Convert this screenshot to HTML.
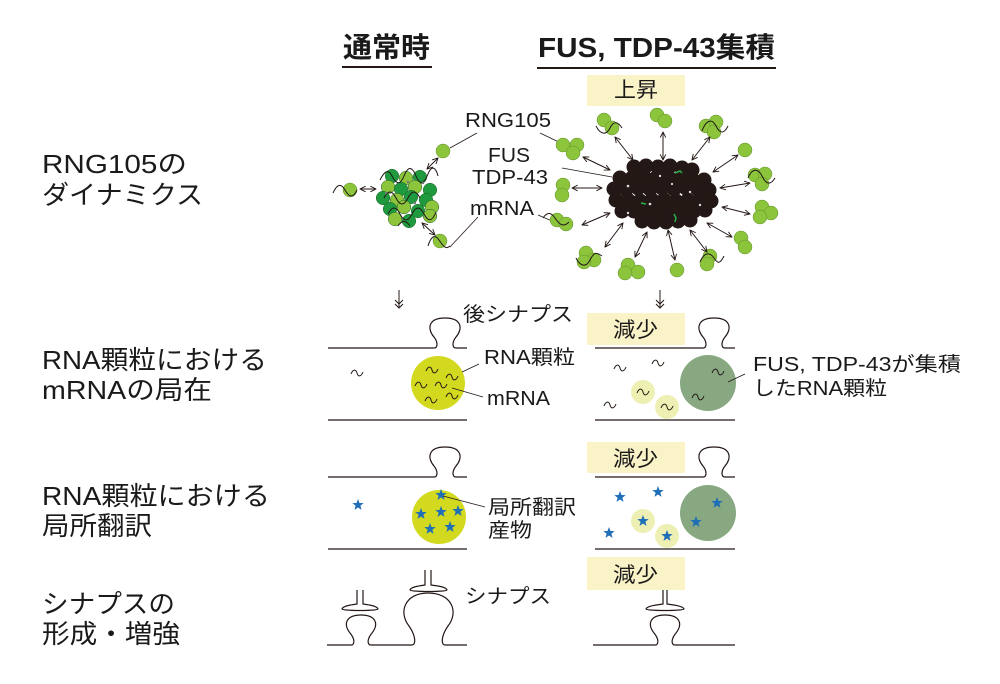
<!DOCTYPE html>
<html><head><meta charset="utf-8"><style>
html,body{margin:0;padding:0;background:#fff;}
svg{display:block;}
text{font-family:"Liberation Sans","Noto Sans CJK JP",sans-serif;fill:#1a1a1a;}
</style></head><body>
<svg width="1000" height="684" viewBox="0 0 1000 684" xmlns="http://www.w3.org/2000/svg">
<defs>
<marker id="ah" viewBox="0 0 10 10" refX="9" refY="5" markerWidth="7" markerHeight="7" orient="auto-start-reverse" markerUnits="userSpaceOnUse"><path d="M1,1 L9,5 L1,9" fill="none" stroke="#231815" stroke-width="1.3"/></marker>
<path id="w" d="M-6,1 C-4,-4 -1,-4 0,0 C1,4 4,4 6,-1" fill="none" stroke="#231815" stroke-width="1"/>
<path id="st" d="M0,-6 L1.47,-2.02 L5.71,-1.85 L2.38,0.77 L3.53,4.85 L0,2.5 L-3.53,4.85 L-2.38,0.77 L-5.71,-1.85 L-1.47,-2.02 Z" fill="#1f6eb8"/>
</defs>
<rect width="1000" height="684" fill="#fff"/>

<!-- headers -->
<text x="343" y="57" font-size="28" font-weight="bold" textLength="87" lengthAdjust="spacingAndGlyphs">通常時</text>
<rect x="342" y="66" width="90" height="2" fill="#231815"/>
<text x="538" y="57" font-size="28" font-weight="bold" textLength="237" lengthAdjust="spacingAndGlyphs">FUS, TDP-43集積</text>
<rect x="537" y="67" width="239" height="2" fill="#231815"/>

<!-- left labels -->
<g font-size="26">
<text x="42" y="173" textLength="145" lengthAdjust="spacingAndGlyphs">RNG105の</text>
<text x="42" y="204" textLength="161" lengthAdjust="spacingAndGlyphs">ダイナミクス</text>
<text x="42" y="369" textLength="225" lengthAdjust="spacingAndGlyphs">RNA顆粒における</text>
<text x="42" y="399" textLength="170" lengthAdjust="spacingAndGlyphs">mRNAの局在</text>
<text x="42" y="505" textLength="228" lengthAdjust="spacingAndGlyphs">RNA顆粒における</text>
<text x="42" y="535" textLength="110" lengthAdjust="spacingAndGlyphs">局所翻訳</text>
<text x="42" y="613" textLength="133" lengthAdjust="spacingAndGlyphs">シナプスの</text>
<text x="42" y="643" textLength="138" lengthAdjust="spacingAndGlyphs">形成・増強</text>
</g>

<!-- yellow boxes -->
<g fill="#fbf3c8">
<rect x="587" y="75" width="98" height="31"/>
<rect x="587" y="313" width="98" height="32"/>
<rect x="587" y="442" width="98" height="31"/>
<rect x="587" y="557" width="98" height="33"/>
</g>
<g font-size="21">
<text x="614" y="97" textLength="44" lengthAdjust="spacingAndGlyphs">上昇</text>
<text x="613" y="337" textLength="45" lengthAdjust="spacingAndGlyphs">減少</text>
<text x="613" y="466" textLength="45" lengthAdjust="spacingAndGlyphs">減少</text>
<text x="613" y="582" textLength="45" lengthAdjust="spacingAndGlyphs">減少</text>
</g>

<!-- ===== Row 1 normal cluster ===== -->
<g stroke="#1d5f22" stroke-width="0.5">
<circle cx="392" cy="176" r="6.8" fill="#1f9a3f"/>
<circle cx="406" cy="178" r="6.8" fill="#8cc43c"/>
<circle cx="420" cy="177" r="6.8" fill="#1f9a3f"/>
<circle cx="388" cy="187" r="6.8" fill="#8cc43c"/>
<circle cx="401" cy="189" r="6.8" fill="#1f9a3f"/>
<circle cx="415" cy="187" r="6.8" fill="#8cc43c"/>
<circle cx="430" cy="190" r="6.8" fill="#1f9a3f"/>
<circle cx="383" cy="198" r="6.8" fill="#1f9a3f"/>
<circle cx="397" cy="200" r="6.8" fill="#8cc43c"/>
<circle cx="411" cy="197" r="6.8" fill="#1f9a3f"/>
<circle cx="426" cy="200" r="6.8" fill="#1f9a3f"/>
<circle cx="390" cy="209" r="6.8" fill="#1f9a3f"/>
<circle cx="404" cy="207" r="6.8" fill="#8cc43c"/>
<circle cx="418" cy="211" r="6.8" fill="#1f9a3f"/>
<circle cx="432" cy="207" r="6.8" fill="#8cc43c"/>
<circle cx="395" cy="219" r="6.8" fill="#8cc43c"/>
<circle cx="409" cy="221" r="6.8" fill="#1f9a3f"/>
<circle cx="430" cy="216" r="6.8" fill="#8cc43c"/>
</g>
<g fill="none" stroke="#231815" stroke-width="1">
<path d="M380,180 C384,172 388,168 392,176 S400,186 404,176 S412,166 416,176 S424,184 428,174 S436,168 438,176"/>
<path d="M384,198 C388,190 392,190 396,198 S404,206 408,198 S416,190 420,198"/>
<path d="M388,214 C392,206 396,206 400,214 S408,222 412,214 S420,206 424,214 S432,222 436,212"/>
<path d="M398,226 C402,220 406,220 410,226"/>
</g>
<g fill="#777"><circle cx="386" cy="193" r="1.2"/><circle cx="408" cy="182" r="1.2"/><circle cx="415" cy="203" r="1.2"/><circle cx="423" cy="183" r="1.2"/></g>
<!-- satellites -->
<circle cx="443" cy="151" r="7" fill="#8cc43c" stroke="#5e8f2a" stroke-width="0.5"/>
<circle cx="350" cy="190" r="7" fill="#8cc43c" stroke="#5e8f2a" stroke-width="0.5"/>
<path d="M333,193 C337,184 341,183 345,190 S353,199 357,190" fill="none" stroke="#231815" stroke-width="1"/>
<circle cx="440" cy="241" r="7" fill="#8cc43c" stroke="#5e8f2a" stroke-width="0.5"/>
<path d="M428,246 C431,236 435,234 439,240 S446,250 450,246" fill="none" stroke="#231815" stroke-width="1"/>
<g stroke="#231815" stroke-width="1" fill="none" marker-start="url(#ah)" marker-end="url(#ah)">
<line x1="438" y1="158" x2="427" y2="169"/>
<line x1="360" y1="189" x2="376" y2="189"/>
<line x1="422" y1="223" x2="435" y2="235"/>
</g>

<!-- row1 labels and leaders -->
<g font-size="20">
<text x="465" y="127" textLength="86" lengthAdjust="spacingAndGlyphs">RNG105</text>
<text x="488" y="162" textLength="42" lengthAdjust="spacingAndGlyphs">FUS</text>
<text x="472" y="184" textLength="76" lengthAdjust="spacingAndGlyphs">TDP-43</text>
<text x="470" y="215" textLength="64" lengthAdjust="spacingAndGlyphs">mRNA</text>
</g>
<g stroke="#231815" stroke-width="0.8">
<line x1="477" y1="133" x2="450" y2="148"/>
<line x1="540" y1="133" x2="567" y2="146"/>
<line x1="562" y1="168" x2="612" y2="177"/>
<line x1="478" y1="217" x2="450" y2="247"/>
<line x1="538" y1="215" x2="552" y2="221"/>
</g>

<!-- ===== Row 1 aggregate ===== -->
<g fill="#231815">
<circle cx="634" cy="167" r="7.5"/><circle cx="646" cy="166" r="7.5"/><circle cx="658" cy="167" r="7.5"/><circle cx="670" cy="166" r="7.5"/><circle cx="682" cy="168" r="7.5"/><circle cx="692" cy="170" r="7.5"/>
<circle cx="620" cy="178" r="7.5"/><circle cx="632" cy="178" r="7.5"/><circle cx="644" cy="177" r="7.5"/><circle cx="656" cy="178" r="7.5"/><circle cx="668" cy="177" r="7.5"/><circle cx="680" cy="178" r="7.5"/><circle cx="692" cy="179" r="7.5"/><circle cx="704" cy="180" r="7.5"/>
<circle cx="614" cy="189" r="7.5"/><circle cx="626" cy="189" r="7.5"/><circle cx="638" cy="188" r="7.5"/><circle cx="650" cy="189" r="7.5"/><circle cx="662" cy="188" r="7.5"/><circle cx="674" cy="189" r="7.5"/><circle cx="686" cy="188" r="7.5"/><circle cx="698" cy="189" r="7.5"/><circle cx="709" cy="190" r="7.5"/>
<circle cx="616" cy="200" r="7.5"/><circle cx="628" cy="200" r="7.5"/><circle cx="640" cy="201" r="7.5"/><circle cx="652" cy="200" r="7.5"/><circle cx="664" cy="200" r="7.5"/><circle cx="676" cy="201" r="7.5"/><circle cx="688" cy="200" r="7.5"/><circle cx="700" cy="200" r="7.5"/><circle cx="711" cy="201" r="7.5"/>
<circle cx="622" cy="211" r="7.5"/><circle cx="634" cy="211" r="7.5"/><circle cx="646" cy="212" r="7.5"/><circle cx="658" cy="211" r="7.5"/><circle cx="670" cy="212" r="7.5"/><circle cx="682" cy="211" r="7.5"/><circle cx="694" cy="211" r="7.5"/><circle cx="705" cy="210" r="7.5"/>
<circle cx="642" cy="221" r="7.5"/><circle cx="654" cy="222" r="7.5"/><circle cx="666" cy="222" r="7.5"/><circle cx="678" cy="221" r="7.5"/><circle cx="690" cy="220" r="7.5"/>
</g>
<g fill="#ddd"><circle cx="628" cy="186" r="1.3"/><circle cx="660" cy="176" r="1.2"/><circle cx="690" cy="192" r="1.2"/><circle cx="650" cy="204" r="1.3"/><circle cx="628" cy="213" r="1.2"/><circle cx="700" cy="205" r="1.2"/><circle cx="672" cy="184" r="1.1"/></g>
<g stroke="#2bb04a" stroke-width="1.5" fill="none">
<path d="M675,173 L680,171 L682,173"/>
<path d="M641,203 L646,204"/>
<path d="M674,214 L676,218 L675,222"/>
</g>
<!-- satellites around aggregate -->
<g fill="#8cc43c" stroke="#5e8f2a" stroke-width="0.5">
<circle cx="604" cy="120" r="7"/><circle cx="612" cy="128" r="7"/>
<circle cx="657" cy="115" r="7"/><circle cx="665" cy="121" r="7"/>
<circle cx="706" cy="126" r="7"/><circle cx="716" cy="122" r="7"/><circle cx="714" cy="132" r="7"/>
<circle cx="745" cy="150" r="7"/>
<circle cx="755" cy="175" r="7"/><circle cx="765" cy="174" r="7"/><circle cx="762" cy="184" r="7"/>
<circle cx="762" cy="207" r="7"/><circle cx="771" cy="213" r="7"/><circle cx="760" cy="217" r="7"/>
<circle cx="741" cy="238" r="7"/><circle cx="745" cy="247" r="7"/>
<circle cx="710" cy="256" r="7"/><circle cx="707" cy="264" r="7"/>
<circle cx="677" cy="270" r="7"/>
<circle cx="628" cy="265" r="7"/><circle cx="638" cy="272" r="7"/><circle cx="625" cy="273" r="7"/>
<circle cx="586" cy="253" r="7"/><circle cx="594" cy="260" r="7"/><circle cx="584" cy="262" r="7"/>
<circle cx="557" cy="220" r="7"/><circle cx="566" cy="224" r="7"/>
<circle cx="563" cy="185" r="7"/><circle cx="562" cy="195" r="7"/>
<circle cx="563" cy="145" r="7"/><circle cx="577" cy="145" r="7"/><circle cx="573" cy="153" r="7"/>
</g>
<g fill="none" stroke="#231815" stroke-width="1">
<path d="M596,126 C600,134 606,136 610,128 S618,122 622,128"/>
<path d="M702,131 C706,120 712,118 716,126 S724,134 728,126"/>
<path d="M748,178 C752,168 758,168 762,176 S770,186 775,178"/>
<path d="M700,262 C704,252 710,252 714,258 S720,264 724,256"/>
<path d="M576,258 C580,266 586,268 590,260 S596,252 602,256"/>
<path d="M543,218 C547,212 551,212 555,218 S563,228 569,222"/>
</g>
<g stroke="#231815" stroke-width="1" fill="none" marker-start="url(#ah)" marker-end="url(#ah)">
<line x1="615" y1="137" x2="633" y2="160"/>
<line x1="663" y1="132" x2="663" y2="160"/>
<line x1="710" y1="137" x2="692" y2="160"/>
<line x1="738" y1="155" x2="713" y2="172"/>
<line x1="750" y1="183" x2="720" y2="188"/>
<line x1="750" y1="214" x2="722" y2="207"/>
<line x1="732" y1="237" x2="707" y2="223"/>
<line x1="707" y1="252" x2="690" y2="230"/>
<line x1="675" y1="260" x2="668" y2="230"/>
<line x1="635" y1="257" x2="647" y2="232"/>
<line x1="605" y1="247" x2="623" y2="223"/>
<line x1="582" y1="225" x2="610" y2="213"/>
<line x1="572" y1="188" x2="602" y2="188"/>
<line x1="583" y1="157" x2="610" y2="170"/>
</g>

<!-- down arrows -->
<g stroke="#231815" stroke-width="1" fill="none">
<line x1="399" y1="290" x2="399" y2="308"/>
<path d="M395,300 L399,304 L403,300 M395,304 L399,308 L403,304"/>
<line x1="660" y1="290" x2="660" y2="308"/>
<path d="M656,300 L660,304 L664,300 M656,304 L660,308 L664,304"/>
</g>

<!-- ===== Row 2 normal ===== -->
<g fill="none" stroke="#231815" stroke-width="1.2">
<path d="M328,348 L434,348 C438,348 438,342 434,337 C427,329 428,318 445,318 C462,318 463,329 456,337 C452,342 452,348 456,348 L467,348"/>
<line x1="328" y1="420" x2="467" y2="420"/>
</g>
<circle cx="438" cy="383" r="27" fill="#d2d91e"/>
<use href="#w" x="357" y="373"/>
<use href="#w" x="432" y="370"/>
<use href="#w" x="452" y="377"/>
<use href="#w" x="421" y="385"/>
<use href="#w" x="441" y="385"/>
<use href="#w" x="431" y="400"/>
<use href="#w" x="452" y="396"/>
<g stroke="#231815" stroke-width="0.8">
<line x1="462" y1="372" x2="479" y2="364"/>
<line x1="452" y1="388" x2="483" y2="397"/>
</g>
<g font-size="20">
<text x="463" y="321" textLength="110" lengthAdjust="spacingAndGlyphs">後シナプス</text>
<text x="484" y="364" textLength="91" lengthAdjust="spacingAndGlyphs">RNA顆粒</text>
<text x="487" y="405" textLength="63" lengthAdjust="spacingAndGlyphs">mRNA</text>
</g>

<!-- ===== Row 2 FUS ===== -->
<g fill="none" stroke="#231815" stroke-width="1.2">
<path d="M595,348 L703,348 C707,348 707,342 703,337 C696,329 697,318 714,318 C731,318 732,329 725,337 C721,342 721,348 725,348 L735,348"/>
<line x1="595" y1="420" x2="735" y2="420"/>
</g>
<circle cx="708" cy="383" r="28" fill="#88a882"/>
<circle cx="643" cy="392" r="12" fill="#eef0b3"/>
<circle cx="667" cy="407" r="12" fill="#eef0b3"/>
<use href="#w" x="620" y="368"/>
<use href="#w" x="658" y="363"/>
<use href="#w" x="610" y="405"/>
<use href="#w" x="643" y="392"/>
<use href="#w" x="667" y="407"/>
<use href="#w" x="718" y="372"/>
<use href="#w" x="698" y="397"/>
<line x1="728" y1="382" x2="745" y2="374" stroke="#231815" stroke-width="0.8"/>
<g font-size="20">
<text x="753" y="371" textLength="208" lengthAdjust="spacingAndGlyphs">FUS, TDP-43が集積</text>
<text x="753" y="395" textLength="134" lengthAdjust="spacingAndGlyphs">したRNA顆粒</text>
</g>

<!-- ===== Row 3 normal ===== -->
<g fill="none" stroke="#231815" stroke-width="1.2">
<path d="M328,477 L434,477 C438,477 438,471 434,466 C427,458 428,447 445,447 C462,447 463,458 456,466 C452,471 452,477 456,477 L467,477"/>
<line x1="328" y1="549" x2="467" y2="549"/>
</g>
<circle cx="439" cy="517" r="27" fill="#d2d91e"/>
<use href="#st" x="358" y="505"/>
<use href="#st" x="441" y="495"/>
<use href="#st" x="421" y="514"/>
<use href="#st" x="441" y="512"/>
<use href="#st" x="458" y="511"/>
<use href="#st" x="430" y="529"/>
<use href="#st" x="450" y="527"/>
<line x1="443" y1="496" x2="485" y2="507" stroke="#231815" stroke-width="0.8"/>
<g font-size="20">
<text x="488" y="514" textLength="88" lengthAdjust="spacingAndGlyphs">局所翻訳</text>
<text x="488" y="537" textLength="44" lengthAdjust="spacingAndGlyphs">産物</text>
</g>

<!-- ===== Row 3 FUS ===== -->
<g fill="none" stroke="#231815" stroke-width="1.2">
<path d="M595,477 L703,477 C707,477 707,471 703,466 C696,458 697,447 714,447 C731,447 732,458 725,466 C721,471 721,477 725,477 L735,477"/>
<line x1="595" y1="549" x2="735" y2="549"/>
</g>
<circle cx="708" cy="513" r="28" fill="#88a882"/>
<circle cx="643" cy="521" r="12" fill="#eef0b3"/>
<circle cx="667" cy="536" r="12" fill="#eef0b3"/>
<use href="#st" x="620" y="497"/>
<use href="#st" x="658" y="492"/>
<use href="#st" x="609" y="533"/>
<use href="#st" x="643" y="521"/>
<use href="#st" x="667" y="536"/>
<use href="#st" x="717" y="503"/>
<use href="#st" x="696" y="522"/>

<!-- ===== Row 4 normal ===== -->
<g fill="none" stroke="#231815" stroke-width="1.2">
<path d="M327,645 L351,645 C355,645 355,639 350,633 C343,624 346,615 361,615 C376,615 379,624 372,633 C367,639 367,645 371,645 L412,645 C416,645 416,636 409,626 C398,612 405,593 428,593 C452,593 459,612 448,626 C441,636 441,645 445,645 L467,645"/>
<path d="M357,590 V604 C350,605 343,606 342,609 C342,611 378,611 378,609 C377,606 370,605 363,604 V590" fill="#fff"/>
<path d="M425,570 V585 C418,586 411,587 410,590 C410,592 447,592 447,590 C446,587 439,586 431,585 V570" fill="#fff"/>
</g>
<text x="465" y="603" font-size="20" textLength="86" lengthAdjust="spacingAndGlyphs">シナプス</text>

<!-- ===== Row 4 FUS ===== -->
<g fill="none" stroke="#231815" stroke-width="1.2">
<path d="M593,645 L655,645 C659,645 659,639 654,633 C647,624 650,615 665,615 C680,615 683,624 676,633 C671,639 671,645 675,645 L735,645"/>
<path d="M663,590 V604 C656,605 647,606 646,609 C646,611 684,611 684,609 C683,606 674,605 667,604 V590" fill="#fff"/>
</g>
</svg>
</body></html>
